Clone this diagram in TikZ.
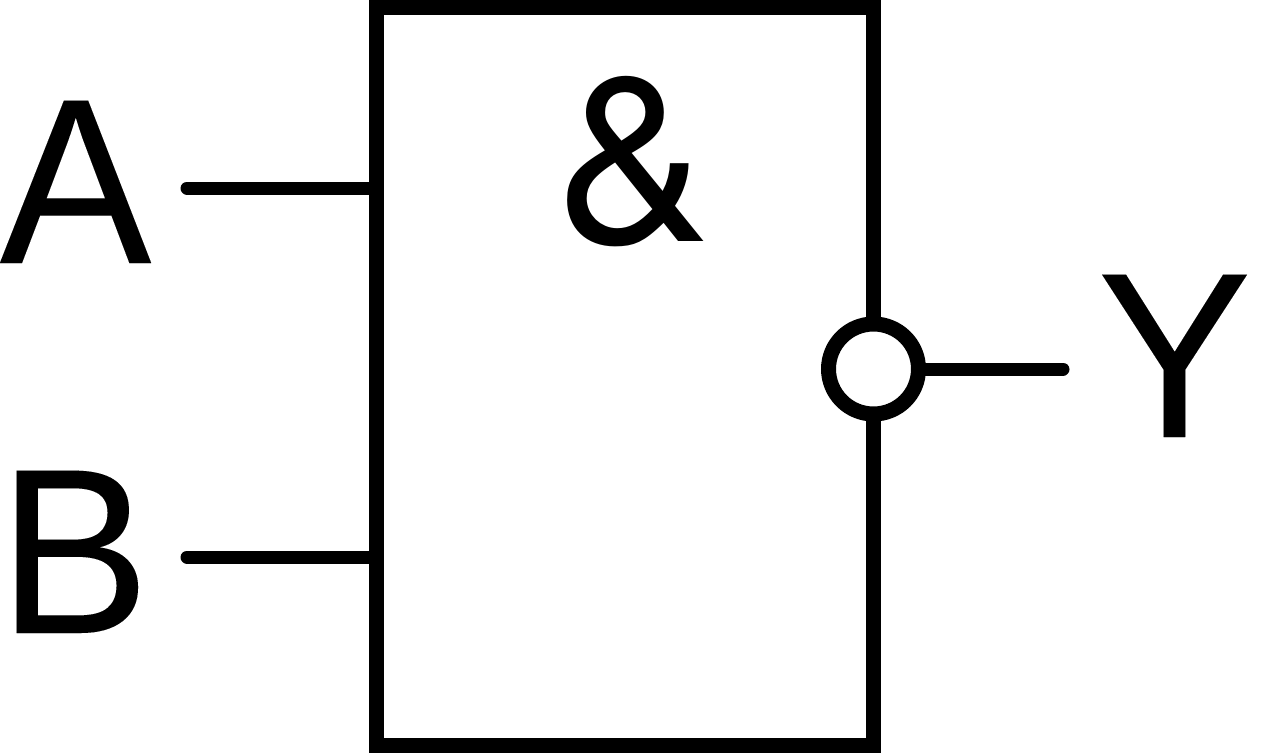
\documentclass[tikz,border=0pt]{standalone}
\usepackage{fontspec}
\setmainfont[FakeBold=0.012]{Liberation Sans}
\newfontfamily\ampfont{TeX Gyre Heros}
\begin{document}
\begin{tikzpicture}[x=1pt,y=-1pt,
  lbl/.style={inner sep=0pt,outer sep=0pt,anchor=base west,font=\fontsize{228}{228}\selectfont,text=black},
  amplbl/.style={inner sep=0pt,outer sep=0pt,anchor=base west,font=\ampfont\fontsize{233}{233}\selectfont,text=black},
  wire/.style={line width=13pt,line cap=round,black},
  gatebox/.style={draw=black,line width=15pt,fill=white,inner sep=0pt,outer sep=0pt,minimum width=497pt,minimum height=738pt,anchor=north west},
  bubble/.style={circle,draw=black,line width=15pt,fill=white,inner sep=0pt,outer sep=0pt,minimum size=90pt}]
\useasboundingbox (0,0) rectangle (1280,753);
\node[gatebox] (box) at (376.5,7.5) {};
\node[amplbl] (amp) at (555,241.5) {\&};
\node[lbl] (la) at (-0.5,263) {\scalebox{1}[1.035]{A}};
\node[lbl] (lb) at (-2,633) {\scalebox{1}[1.035]{B}};
\node[lbl] (ly) at (1097,437) {\scalebox{1.02}[1.035]{Y}};
\coordinate (ina) at (187,188);
\coordinate (inb) at (187,557);
\coordinate (outy) at (1063,369);
\node[bubble] (nb) at (873.5,369) {};
\draw[wire] (ina) -- (ina -| box.west);
\draw[wire] (inb) -- (inb -| box.west);
\draw[wire] (nb.east) -- (outy);
\end{tikzpicture}
\end{document}
